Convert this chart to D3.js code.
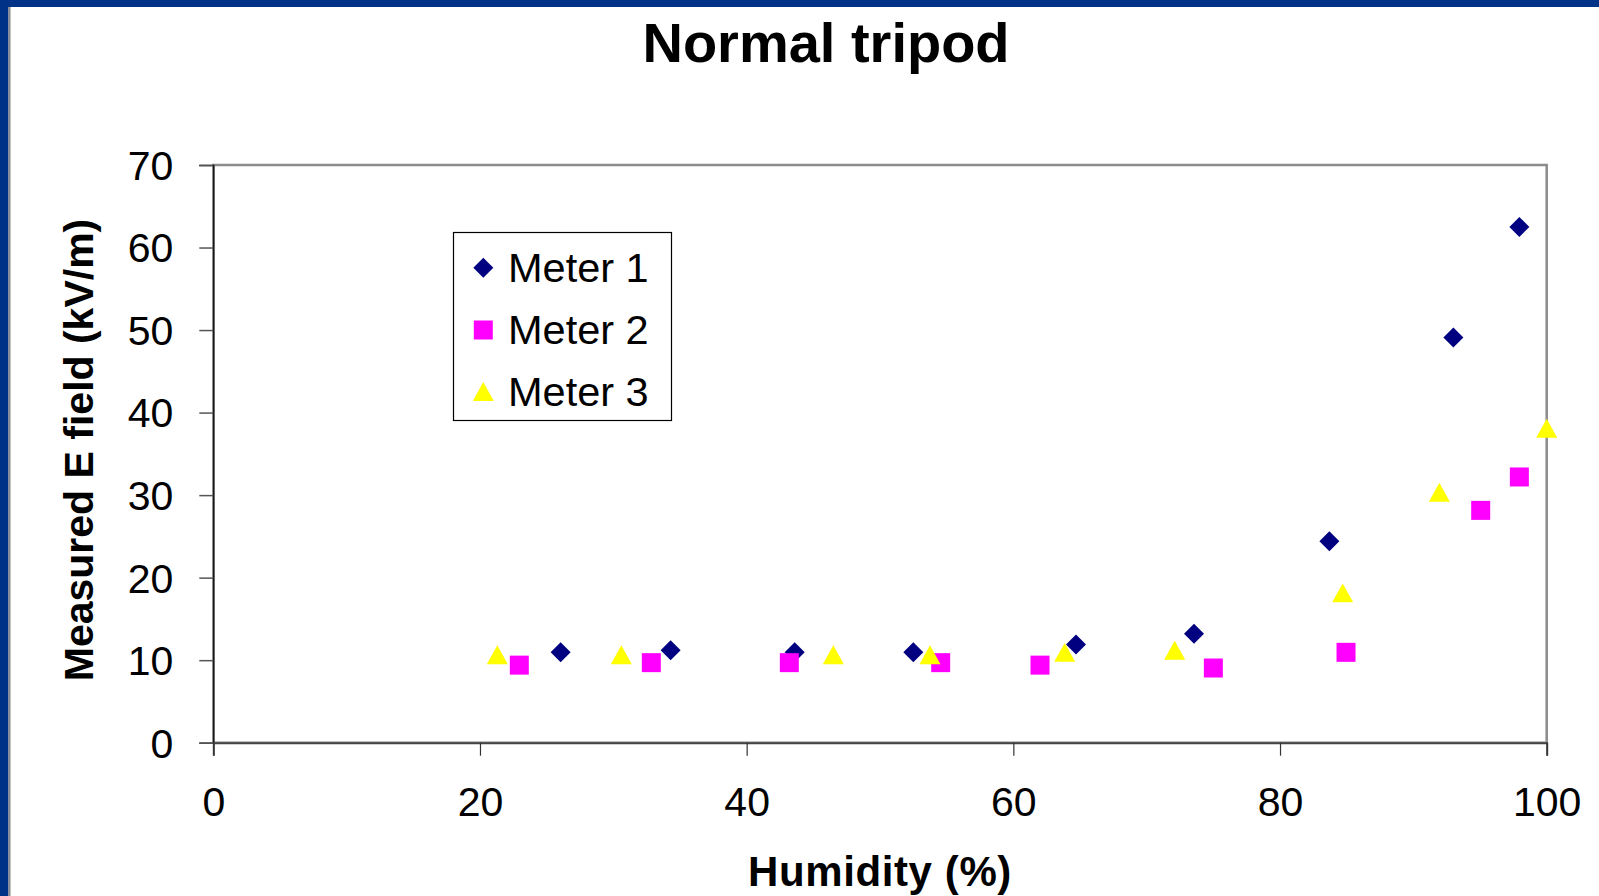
<!DOCTYPE html>
<html>
<head>
<meta charset="utf-8">
<script src="https://cdn.jsdelivr.net/npm/d3@7"></script>
<style>
  html, body { margin: 0; padding: 0; background: #fff; }
  svg { display: block; }
  text { font-family: "Liberation Sans", Arial, sans-serif; fill: #000; }
</style>
</head>
<body>
<svg id="chart" width="1599" height="896"></svg>
<script>
// ---- data ----
const title = "Normal tripod";
const xLabel = "Humidity (%)";
const yLabel = "Measured E field (kV/m)";
const xTicks = [0, 20, 40, 60, 80, 100];
const yTicks = [0, 10, 20, 30, 40, 50, 60, 70];
const seriesNames = ["Meter 1", "Meter 2", "Meter 3"];

const meter1X = [26.05, 34.3, 43.6, 52.5, 64.7, 73.55, 83.7, 93.0, 97.95];
const meter1Y = [10.95, 11.2, 10.95, 10.95, 11.9, 13.2, 24.4, 49.1, 62.5];
const meter2X = [22.95, 32.85, 43.2, 54.55, 62.0, 75.0, 84.95, 95.05, 97.95];
const meter2Y = [9.4, 9.7, 9.7, 9.7, 9.4, 9.05, 10.95, 28.15, 32.2];
const meter3X = [21.3, 30.6, 46.5, 53.75, 63.85, 72.1, 84.7, 91.95, 100];
const meter3Y = [10.65, 10.65, 10.65, 10.65, 10.95, 11.2, 18.15, 30.35, 38.1];

// ---- layout ----
const svg = d3.select("#chart");
const W = 1599, H = 896;
const plot = { left: 213.3, right: 1546.7, top: 165, bottom: 742.7 };

const x = d3.scaleLinear().domain([0, 100]).range([plot.left, plot.right]);
const y = d3.scaleLinear().domain([0, 70]).range([plot.bottom, plot.top]);

svg.append("rect").attr("width", W).attr("height", H).attr("fill", "#fff");

// slide frame
svg.append("rect").attr("x", 0).attr("y", 0).attr("width", W).attr("height", 7).attr("fill", "#003287");
svg.append("rect").attr("x", 0).attr("y", 0).attr("width", 8.5).attr("height", H).attr("fill", "#003287");
svg.append("line").attr("x1", 9.5).attr("x2", 9.5).attr("y1", 7).attr("y2", H)
  .attr("stroke", "#8a8a8a").attr("stroke-width", 2);

// plot border (top/right gray)
svg.append("rect")
  .attr("x", plot.left).attr("y", plot.top)
  .attr("width", plot.right - plot.left).attr("height", plot.bottom - plot.top)
  .attr("fill", "none").attr("stroke", "#8c8c8c").attr("stroke-width", 2.5);

// y axis
const yAxis = d3.axisLeft(y).tickValues(yTicks).tickSize(14).tickPadding(26).tickFormat(d3.format("d"));
const gy = svg.append("g").attr("transform", `translate(${plot.left},0)`).call(yAxis);
gy.select(".domain").attr("stroke", "#000").attr("stroke-width", 1.3);
gy.selectAll(".tick line").attr("stroke", "#555").attr("stroke-width", 1.5);
gy.selectAll(".tick text").attr("font-size", 41).attr("font-family", "Liberation Sans, Arial, sans-serif")
  .attr("fill", "#000").attr("dy", "0.35em");

// x axis
const xAxis = d3.axisBottom(x).tickValues(xTicks).tickSize(13).tickPadding(31).tickFormat(d3.format("d"));
const gx = svg.append("g").attr("transform", `translate(0,${plot.bottom})`).call(xAxis);
gx.select(".domain").attr("stroke", "#444").attr("stroke-width", 2);
gx.selectAll(".tick line").attr("stroke", "#333").attr("stroke-width", 1.2);
gx.selectAll(".tick text").attr("font-size", 41).attr("font-family", "Liberation Sans, Arial, sans-serif")
  .attr("fill", "#000").attr("dy", "0.71em");

// titles
svg.append("text").attr("x", 826).attr("y", 61.5).attr("text-anchor", "middle")
  .attr("font-size", 56).attr("font-weight", "bold").text(title);
svg.append("text").attr("x", 880).attr("y", 886).attr("text-anchor", "middle")
  .attr("font-size", 42).attr("font-weight", "bold").attr("letter-spacing", 0.6).text(xLabel);
svg.append("text").attr("transform", `translate(93,450) rotate(-90)`).attr("text-anchor", "middle")
  .attr("font-size", 41).attr("font-weight", "bold").text(yLabel);

// markers
const shapes = {
  diamond: s => `M0,${-s}L${s},0L0,${s}L${-s},0Z`,
  square: s => `M${-s},${-s}H${s}V${s}H${-s}Z`,
  triangle: s => `M0,${-s * 0.9}L${s},${s * 0.9}L${-s},${s * 0.9}Z`
};
const series = [
  { name: seriesNames[0], xs: meter1X, ys: meter1Y, shape: "diamond", size: 10, color: "#000080" },
  { name: seriesNames[1], xs: meter2X, ys: meter2Y, shape: "square", size: 9.5, color: "#ff00ff" },
  { name: seriesNames[2], xs: meter3X, ys: meter3Y, shape: "triangle", size: 10.5, color: "#ffff00" }
];

series.forEach(s => {
  svg.append("g").selectAll("path")
    .data(s.xs.map((v, i) => [v, s.ys[i]]))
    .join("path")
    .attr("transform", d => `translate(${x(d[0])},${y(d[1])})`)
    .attr("d", shapes[s.shape](s.size))
    .attr("fill", s.color);
});

// legend
const lg = svg.append("g");
lg.append("rect").attr("x", 453.5).attr("y", 232.5).attr("width", 218).attr("height", 188)
  .attr("fill", "#fff").attr("stroke", "#000").attr("stroke-width", 1.2);
const legendRowY = [267.7, 330, 391.5];
series.forEach((s, i) => {
  lg.append("path").attr("transform", `translate(483.3,${legendRowY[i]})`)
    .attr("d", shapes[s.shape](s.size)).attr("fill", s.color);
  lg.append("text").attr("x", 508).attr("y", legendRowY[i] + 14)
    .attr("font-size", 41.5).text(s.name);
});
</script>
</body>
</html>
